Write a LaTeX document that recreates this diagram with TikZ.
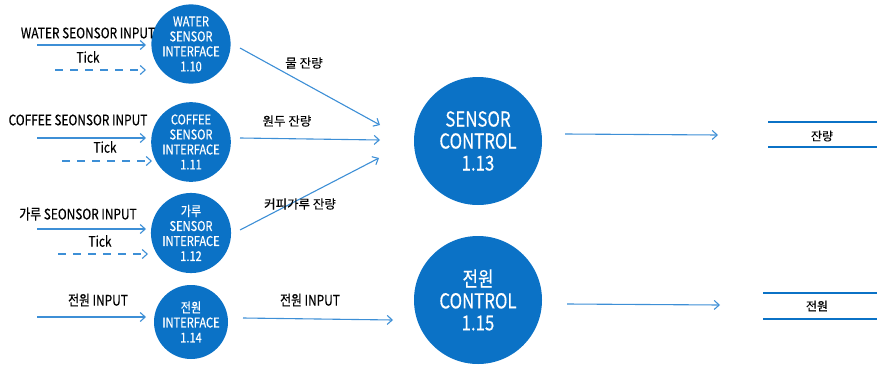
\documentclass[tikz,border=0pt]{standalone}
\usepackage{fontspec}
\setmainfont[FakeStretch=0.82,FakeBold=0.35]{Noto Sans CJK KR}
\newfontfamily\krfont[FakeBold=0.35]{Noto Sans CJK KR}
\usetikzlibrary{arrows.meta}
\definecolor{cblue}{HTML}{0B72C6}
\definecolor{ablue}{HTML}{3D8FD6}
\begin{document}
\begin{tikzpicture}[x=1pt,y=-1pt,
  proc/.style={circle, fill=cblue, text=white, inner sep=0pt, align=center,
     minimum size=78pt, font=\fontsize{13.5}{15}\selectfont},
  bigproc/.style={proc, minimum size=128pt, font=\fontsize{20.5}{22}\selectfont},
  flow/.style={draw=ablue, line width=1.1pt, -{Straight Barb[length=5pt,width=9pt]}},
  dflow/.style={flow, dash pattern=on 8pt off 7pt},
  lbl/.style={inner sep=0pt, font=\fontsize{14.5}{16}\selectfont},
  slbl/.style={inner sep=0pt, font=\krfont\fontsize{12.5}{14}\selectfont},
  dlbl/.style={inner sep=0pt, font=\krfont\fontsize{12}{14}\selectfont},
  store/.style={draw=cblue, line width=2pt}]
\useasboundingbox (0,0) rectangle (877,364);
% processes
\node[proc] (p10) at (191,44) {WATER\\SENSOR\\INTERFACE\\1.10};
\node[proc] (p11) at (191,142) {COFFEE\\SENSOR\\INTERFACE\\1.11};
\node[proc] (p12) at (191,233) {가루\\SENSOR\\INTERFACE\\1.12};
\node[proc, minimum size=74pt] (p14) at (191,322) {전원\\INTERFACE\\1.14};
\node[bigproc] (p13) at (478,141) {SENSOR\\CONTROL\\1.13};
\node[bigproc] (p15) at (478,300) {전원\\CONTROL\\1.15};
% input flows
\coordinate (a1) at (37,45);  \coordinate (a1e) at (146,45);
\coordinate (t1) at (55,70);  \coordinate (t1e) at (146,70);
\coordinate (a2) at (37,138); \coordinate (a2e) at (146,138);
\coordinate (t2) at (62,161); \coordinate (t2e) at (152,161);
\coordinate (a3) at (37,229); \coordinate (a3e) at (146,229);
\coordinate (t3) at (58,254); \coordinate (t3e) at (148,254);
\coordinate (a4) at (37,317); \coordinate (a4e) at (146,317);
\draw[flow] (a1) -- (a1e);
\draw[dflow] (t1) -- (t1e);
\draw[flow] (a2) -- (a2e);
\draw[dflow] (t2) -- (t2e);
\draw[flow] (a3) -- (a3e);
\draw[dflow] (t3) -- (t3e);
\draw[flow] (a4) -- (a4e);
\node[lbl] (l1) at (88,33) {WATER SEONSOR INPUT};
\node[lbl] (k1) at (88,57) {Tick};
\node[lbl] (l2) at (78,120) {COFFEE SEONSOR INPUT};
\node[lbl] (k2) at (105,147) {Tick};
\node[lbl] (l3) at (78,214) {가루 SEONSOR INPUT};
\node[lbl] (k3) at (100,241) {Tick};
\node[lbl] (l4) at (98,300) {전원 INPUT};
% middle flows
\coordinate (m1s) at (240,48);  \coordinate (m1e) at (380,125);
\coordinate (m2s) at (240,138); \coordinate (m2e) at (380,140);
\coordinate (m3s) at (240,230); \coordinate (m3e) at (379,158);
\coordinate (m4s) at (243,318); \coordinate (m4e) at (393,320);
\draw[flow] (m1s) -- (m1e);
\draw[flow] (m2s) -- (m2e);
\draw[flow] (m3s) -- (m3e);
\draw[flow] (m4s) -- (m4e);
\node[slbl] (n1) at (304,63) {물 잔량};
\node[slbl] (n2) at (287,121) {원두 잔량};
\node[slbl] (n3) at (300,204) {커피가루 잔량};
\node[lbl] (n4) at (310,300) {전원 INPUT};
% output flows
\coordinate (o1s) at (565,134); \coordinate (o1e) at (718,135);
\coordinate (o2s) at (567,304); \coordinate (o2e) at (720,305);
\draw[flow] (o1s) -- (o1e);
\draw[flow] (o2s) -- (o2e);
% stores
\coordinate (s1a) at (768,122); \coordinate (s1b) at (877,122);
\coordinate (s1c) at (768,147); \coordinate (s1d) at (877,147);
\draw[store] (s1a) -- (s1b);
\draw[store] (s1c) -- (s1d);
\node[dlbl] (d1) at (822,136) {잔량};
\coordinate (s2a) at (763,293); \coordinate (s2b) at (877,293);
\coordinate (s2c) at (763,319); \coordinate (s2d) at (877,319);
\draw[store] (s2a) -- (s2b);
\draw[store] (s2c) -- (s2d);
\node[dlbl] (d2) at (817,306) {전원};
\end{tikzpicture}
\end{document}
